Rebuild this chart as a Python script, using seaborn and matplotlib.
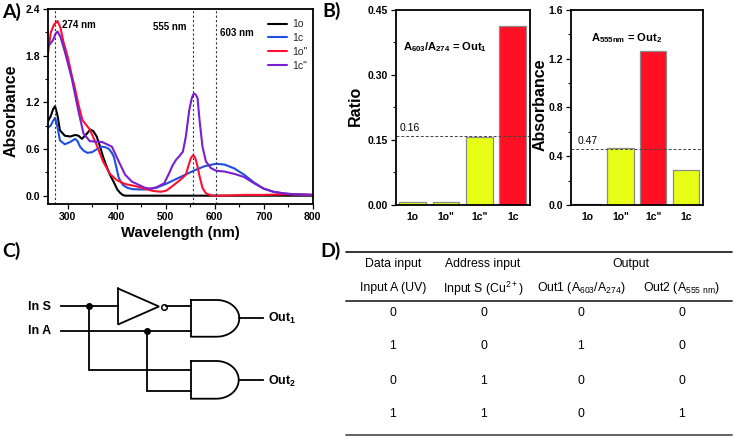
import numpy as np
import pandas as pd
import matplotlib
matplotlib.use("Agg")
import matplotlib.pyplot as plt
import seaborn as sns

W, H = 734, 437
sns.set_theme(style="ticks")
plt.rcParams["font.family"] = ["Liberation Sans", "DejaVu Sans"]
plt.rcParams["mathtext.fontset"] = "custom"
plt.rcParams["mathtext.rm"] = "Liberation Sans"
plt.rcParams["mathtext.bf"] = "Liberation Sans:bold"
plt.rcParams["mathtext.default"] = "regular"

# ---------- Panel A spectra ----------
nm_1o = [259,265,270,274,279,284,294,305,315,322,329,338,346,352,359,365,372,379,386,395,401,407,412,417,430,500,600,700,800]
abs_1o = [0.95,1.02,1.11,1.15,1.03,0.84,0.77,0.76,0.78,0.77,0.73,0.79,0.85,0.83,0.76,0.65,0.50,0.38,0.27,0.16,0.08,0.035,0.01,0.0,0.0,0.0,0.0,0.0,0.0]
nm_1c = [259,265,270,274,279,284,294,305,315,320,325,332,340,350,360,370,378,384,390,394,399,404,409,414,422,431,445,458,480,500,520,540,560,580,603,620,640,660,680,700,720,740,760,800]
abs_1c = [0.87,0.90,0.96,1.00,0.88,0.71,0.66,0.69,0.73,0.70,0.63,0.58,0.55,0.56,0.60,0.63,0.62,0.60,0.55,0.50,0.37,0.23,0.17,0.13,0.10,0.085,0.08,0.08,0.10,0.15,0.21,0.27,0.33,0.38,0.41,0.40,0.35,0.27,0.17,0.09,0.05,0.03,0.015,0.01]
nm_1o2 = [259,265,272,279,285,291,300,308,315,322,330,345,359,372,386,400,417,440,458,475,490,501,511,521,531,541,548,552,556,560,564,569,575,582,592,600,620,660,700,760,800]
abs_1o2 = [1.79,2.09,2.20,2.245,2.16,1.98,1.78,1.55,1.37,1.165,0.97,0.85,0.65,0.44,0.28,0.20,0.15,0.12,0.086,0.06,0.05,0.065,0.11,0.16,0.21,0.27,0.42,0.49,0.52,0.49,0.40,0.25,0.10,0.03,0.005,0.0,0.0,0.01,0.01,0.02,0.01]
nm_1c2 = [259,264,270,275,279,285,294,308,322,332,345,370,390,404,417,431,458,470,482,497,507,514,521,528,535,541,548,553,556,559,562,565,569,575,582,592,603,620,640,660,680,700,720,740,760,800]
abs_1c2 = [1.93,1.95,2.00,2.08,2.11,2.04,1.85,1.51,1.08,0.80,0.70,0.69,0.63,0.44,0.27,0.18,0.10,0.09,0.11,0.16,0.29,0.39,0.46,0.51,0.565,0.76,1.10,1.25,1.30,1.31,1.29,1.25,0.97,0.63,0.44,0.355,0.32,0.31,0.28,0.24,0.16,0.09,0.05,0.03,0.02,0.01]
series_names = ["1o", "1c", '1o"', '1c"']
series_colors = ["#000000", "#1F4FE0", "#FF1030", "#7A1FD0"]
marker_nm = [274, 555, 603]

# ---------- Panel B bars ----------
ratio_cats = ["1o", '1o"', '1c"', "1c"]
ratio_vals = [0.006, 0.006, 0.157, 0.413]
ratio_cols = ["#E6FF14", "#E6FF14", "#E6FF14", "#FF1024"]
abs_cats = ["1o", '1o"', '1c"', "1c"]
abs_vals = [0.005, 0.465, 1.26, 0.29]
abs_cols = ["#E6FF14", "#E6FF14", "#FF1024", "#E6FF14"]
ratio_threshold = 0.16
abs_threshold = 0.46

# ---------- Panel D table ----------
col_data = [0, 1, 0, 1]
col_addr = [0, 0, 1, 1]
col_out1 = [0, 1, 0, 0]
col_out2 = [0, 0, 0, 1]

fig = plt.figure(figsize=(W / 100, H / 100), dpi=100)


def axpx(l, t, r, b):
    return fig.add_axes([l / W, 1 - b / H, (r - l) / W, (b - t) / H])


def style(ax, size=7.5):
    for s in ax.spines.values():
        s.set_linewidth(1.3)
        s.set_color("black")
    ax.tick_params(axis="both", which="major", length=3.5, width=0.9, pad=2, labelsize=size, colors="black")
    ax.tick_params(axis="both", which="minor", length=2, width=0.8, colors="black")
    for t in ax.get_xticklabels() + ax.get_yticklabels():
        t.set_fontweight("bold")


# Panel A
axA = axpx(47.7, 8.5, 312.7, 204)
frames = []
for name, x, y in zip(series_names, [nm_1o, nm_1c, nm_1o2, nm_1c2], [abs_1o, abs_1c, abs_1o2, abs_1c2]):
    frames.append(pd.DataFrame({"nm": x, "A": y, "s": name}))
spec = pd.concat(frames)
sns.lineplot(data=spec, x="nm", y="A", hue="s", hue_order=series_names, palette=series_colors,
             estimator=None, sort=False, lw=1.5, ax=axA)
for m in marker_nm:
    axA.axvline(m, color="#333355", lw=0.8, ls=(0, (2, 2)))
axA.set_xlim(259, 800)
axA.set_ylim(-0.107, 2.405)
axA.set_xticks([300, 400, 500, 600, 700, 800])
axA.set_xticks([350, 450, 550, 650, 750], minor=True)
axA.set_yticks([0, 0.6, 1.2, 1.8, 2.4])
axA.set_yticks([0.3, 0.9, 1.5, 2.1], minor=True)
axA.set_yticklabels(["0.0", "0.6", "1.2", "1.8", "2.4"])
axA.set_xlabel("")
axA.set_ylabel("")
style(axA)
leg = axA.legend(loc="upper right", bbox_to_anchor=(0.98, 0.945), frameon=False, fontsize=7.5,
                 handlelength=1.9, labelspacing=0.36, handletextpad=0.45, borderpad=0, borderaxespad=0)

# Panel B left
axB1 = axpx(396, 10, 530, 205)
dfr = pd.DataFrame({"c": ratio_cats, "v": ratio_vals})
sns.barplot(data=dfr, x="c", y="v", hue="c", palette=ratio_cols, legend=False, width=0.8, saturation=1,
            edgecolor="#8a8a8a", linewidth=0.9, ax=axB1)
axB1.axhline(ratio_threshold, color="#444444", lw=0.7, ls=(0, (3, 2)))
axB1.set_xlim(-0.5, 3.52)
axB1.set_ylim(0, 0.45)
axB1.set_yticks([0, 0.15, 0.30, 0.45])
axB1.set_yticklabels(["0.00", "0.15", "0.30", "0.45"])
axB1.set_yticks([0.075, 0.225, 0.375], minor=True)
axB1.set_xlabel("")
axB1.set_ylabel("")
style(axB1)
axB1.tick_params(axis="x", length=0, pad=5)

# Panel B right
axB2 = axpx(571, 10, 702.7, 205)
dfa = pd.DataFrame({"c": abs_cats, "v": abs_vals})
sns.barplot(data=dfa, x="c", y="v", hue="c", palette=abs_cols, legend=False, width=0.8, saturation=1,
            edgecolor="#8a8a8a", linewidth=0.9, ax=axB2)
axB2.axhline(abs_threshold, color="#444444", lw=0.7, ls=(0, (3, 2)))
axB2.set_xlim(-0.5, 3.5)
axB2.set_ylim(0, 1.6)
axB2.set_yticks([0, 0.4, 0.8, 1.2, 1.6])
axB2.set_yticklabels(["0.0", "0.4", "0.8", "1.2", "1.6"])
axB2.set_yticks([0.2, 0.6, 1.0, 1.4], minor=True)
axB2.set_xlabel("")
axB2.set_ylabel("")
style(axB2)
axB2.tick_params(axis="x", length=0, pad=5)

# Overlay in pixel space: labels, logic circuit, table
ov = fig.add_axes([0, 0, 1, 1], zorder=10)
ov.set_xlim(0, W)
ov.set_ylim(H, 0)
ov.axis("off")
ov.patch.set_alpha(0)


def T(x, y, s, size=7.5, weight="normal", ha="center", va="center", **kw):
    ov.text(x, y, s, fontsize=size, fontweight=weight, ha=ha, va=va, color="black", **kw)


# panel letters
for x, y, s in [(2, 12, "A)"), (322, 11, "B)"), (2, 251, "C)"), (320, 251, "D)")]:
    T(x, y, s, size=14, weight="bold", ha="left", family="Lato")

# axis labels
T(11.5, 111, "Absorbance", size=11.5, weight="bold", rotation=90)
T(180, 233, "Wavelength (nm)", size=10.7, weight="bold")
T(355, 106, "Ratio", size=11.5, weight="bold", rotation=90)
T(540, 105, "Absorbance", size=11.5, weight="bold", rotation=90)

# annotations
T(62, 24.5, "274 nm", size=7, weight="bold", ha="left")
T(153, 27.5, "555 nm", size=7, weight="bold", ha="left")
T(220, 32.5, "603 nm", size=7, weight="bold", ha="left")
T(403, 47, r"$\mathbf{A_{603}/A_{274}}$ = Out$\mathbf{_1}$", size=8, weight="bold", ha="left")
T(591, 38.5, r"$\mathbf{A_{555nm}}$ = Out$\mathbf{_2}$", size=8, weight="bold", ha="left")
T(400, 128, "0.16", size=7.5, ha="left")
T(578, 141, "0.47", size=7.5, ha="left")

# logic circuit
LW = 1.3
def wire(xs, ys):
    ov.plot(xs, ys, color="black", lw=LW, solid_capstyle="projecting", solid_joinstyle="miter")

def and_gate(l, t, b, r):
    flat = l + (r - l) * 0.53
    th = np.linspace(-np.pi / 2, np.pi / 2, 60)
    cy, ry = (t + b) / 2, (b - t) / 2
    xs = np.r_[l, flat, flat + (r - flat) * np.cos(th), l, l]
    ys = np.r_[t, t, cy + ry * np.sin(th), b, t]
    wire(xs, ys)

wire([60.7, 118], [306, 306])
wire([118, 118, 159, 118], [288.5, 324.5, 306.5, 288.5])
ov.plot([163.5], [306.5], "o", ms=4, mfc="white", mec="black", mew=1.1)
wire([166, 191], [306, 306])
wire([60.7, 191], [330.5, 330.5])
wire([89.3, 89.3, 191], [306, 370, 370])
wire([146.7, 146.7, 191], [330.5, 390.5, 390.5])
ov.plot([89.3, 146.7], [306, 330.5], "o", ms=4, color="black")
and_gate(191, 300, 336.7, 239.3)
and_gate(191, 361, 398.7, 238.7)
wire([239.3, 263.3], [318, 318])
wire([238.7, 263.3], [380, 380])
T(28, 307, "In S", size=9, weight="bold", ha="left")
T(28, 331, "In A", size=9, weight="bold", ha="left")
T(268.5, 318.5, r"Out$\mathbf{_1}$", size=9, weight="bold", ha="left")
T(268.5, 381, r"Out$\mathbf{_2}$", size=9, weight="bold", ha="left")

# table
for y, c, lw in [(251.7, "#111111", 1.2), (300.7, "#333333", 1.3), (435, "#555555", 1.3)]:
    ov.plot([346, 731.7], [y, y], color=c, lw=lw)
col_x = [392.7, 483.5, 581, 681.7]
T(col_x[0], 264.5, "Data input", size=8.8)
T(col_x[1] - 0.5, 264.5, "Address input", size=8.8)
T(631, 264.5, "Output", size=8.8)
T(col_x[0] + 0.5, 288.5, "Input A (UV)", size=8.8)
T(col_x[1], 288.5, r"Input S (Cu$^{2+}$)", size=8.8)
T(col_x[2] + 0.5, 288.5, r"Out1 (A$_{603}$/A$_{274}$)", size=8.8)
T(col_x[3], 288.5, r"Out2 (A$_{555\ nm}$)", size=8.8)
row_y = [313, 346, 381, 414]
for i, y in enumerate(row_y):
    for x, col in zip(col_x, [col_data, col_addr, col_out1, col_out2]):
        T(x, y, str(col[i]), size=8.8)

fig.savefig("out.png", dpi=100)
